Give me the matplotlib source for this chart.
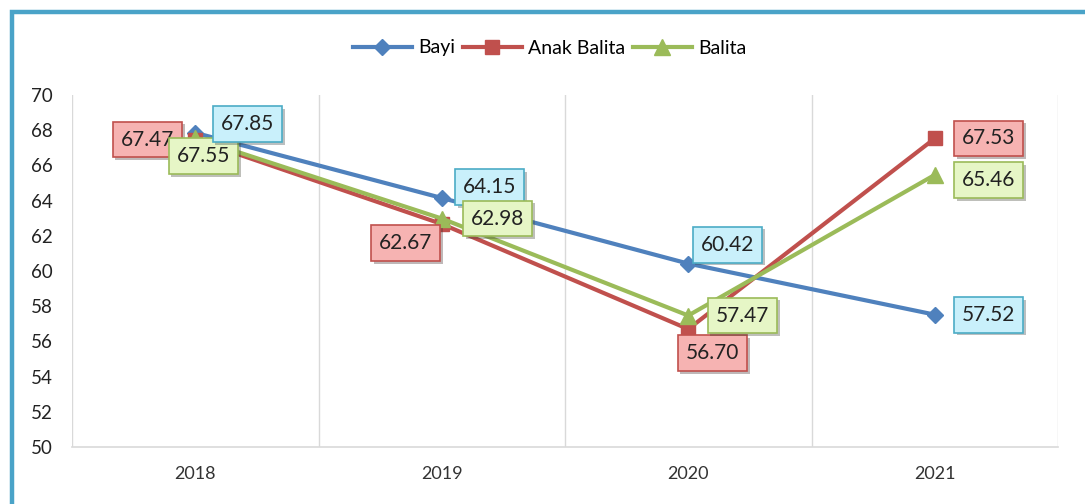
import matplotlib
matplotlib.use("Agg")
import matplotlib.pyplot as plt
import matplotlib.patheffects as pe
from matplotlib.patches import Rectangle

years = ["2018", "2019", "2020", "2021"]
bayi = [67.85, 64.15, 60.42, 57.52]
anak_balita = [67.47, 62.67, 56.70, 67.53]
balita = [67.55, 62.98, 57.47, 65.46]

yticks = list(range(50, 71, 2))

plt.rcParams['font.family'] = ['Lato', 'DejaVu Sans']

W, H = 1085, 504
fig = plt.figure(figsize=(W / 100, H / 100), dpi=100)
fig.patch.set_facecolor('white')

# outer blue frame (left & top visible)
fig.patches.append(Rectangle((12 / W, -0.05), 1.2, 1 - 12 / H + 0.05,
                             transform=fig.transFigure, fill=False,
                             edgecolor='#4aa3c8', linewidth=3.2, zorder=0))

ax = fig.add_axes([72 / W, 1 - 447 / H, (1058 - 72) / W, (447 - 95) / H])
x = list(range(len(years)))

c_bayi, c_anak, c_bal = '#4f81bd', '#c0504d', '#9bbb59'
ax.plot(x, bayi, color=c_bayi, lw=3.0, marker='D', ms=8, label='Bayi', zorder=3)
ax.plot(x, anak_balita, color=c_anak, lw=3.0, marker='s', ms=10.5, label='Anak Balita', zorder=3)
ax.plot(x, balita, color=c_bal, lw=3.0, marker='^', ms=11, label='Balita', zorder=3)

ax.set_xlim(-0.5, 3.5)
ax.set_ylim(50, 70)
ax.set_yticks(yticks)
ax.set_yticklabels([str(v) for v in yticks], fontsize=13.5, color='#222222')
ax.set_xticks(x)
ax.set_xticklabels(years, fontsize=13, color='#333333')
ax.set_xticks([-0.5, 0.5, 1.5, 2.5, 3.5], minor=True)
ax.tick_params(axis='both', which='both', length=0)
ax.tick_params(axis='x', pad=14)
ax.tick_params(axis='y', pad=14)
ax.grid(True, axis='x', which='minor', color='#d9d9d9', lw=1)
ax.grid(False, axis='y')
for s in ['top', 'right', 'left']:
    ax.spines[s].set_visible(False)
ax.spines['bottom'].set_color('#d9d9d9')
ax.spines['bottom'].set_linewidth(1.2)

# data labels: (series, index, offset px)
styles = {
    'bayi': dict(fc='#c9f0fb', ec='#4bacc6'),
    'anak': dict(fc='#f6b3b2', ec='#c0504d'),
    'bal': dict(fc='#e6f6c6', ec='#9bbb59'),
}
labels = [
    ('anak', anak_balita, 0, (-48, 0)),
    ('bal', balita, 0, (8, -18)),
    ('bayi', bayi, 0, (52, 9)),
    ('anak', anak_balita, 1, (-36, -19)),
    ('bayi', bayi, 1, (48, 11)),
    ('bal', balita, 1, (56, 0)),
    ('bayi', bayi, 2, (39, 19)),
    ('anak', anak_balita, 2, (24, -24)),
    ('bal', balita, 2, (54, 0)),
    ('bayi', bayi, 3, (54, 0)),
    ('anak', anak_balita, 3, (54, 0)),
    ('bal', balita, 3, (54, -5)),
]
for k, series, i, off in labels:
    st = styles[k]
    a = ax.annotate(f"{series[i]:.2f}", (x[i], series[i]), xytext=off,
                    textcoords='offset pixels', ha='center', va='center',
                    fontsize=15, color='#222222', zorder=5,
                    bbox=dict(boxstyle='square,pad=0.38', fc=st['fc'],
                              ec=st['ec'], lw=1.2))
    a.get_bbox_patch().set_path_effects([
        pe.SimplePatchShadow(offset=(2, -2), alpha=0.35), pe.Normal()])

leg = fig.legend(loc='center', bbox_to_anchor=(550 / W, 1 - 48 / H), ncol=3,
                 frameon=False, fontsize=14, handlelength=3.0,
                 columnspacing=0.4, handletextpad=0.35)

fig.savefig('out.png', dpi=100, facecolor='white')
